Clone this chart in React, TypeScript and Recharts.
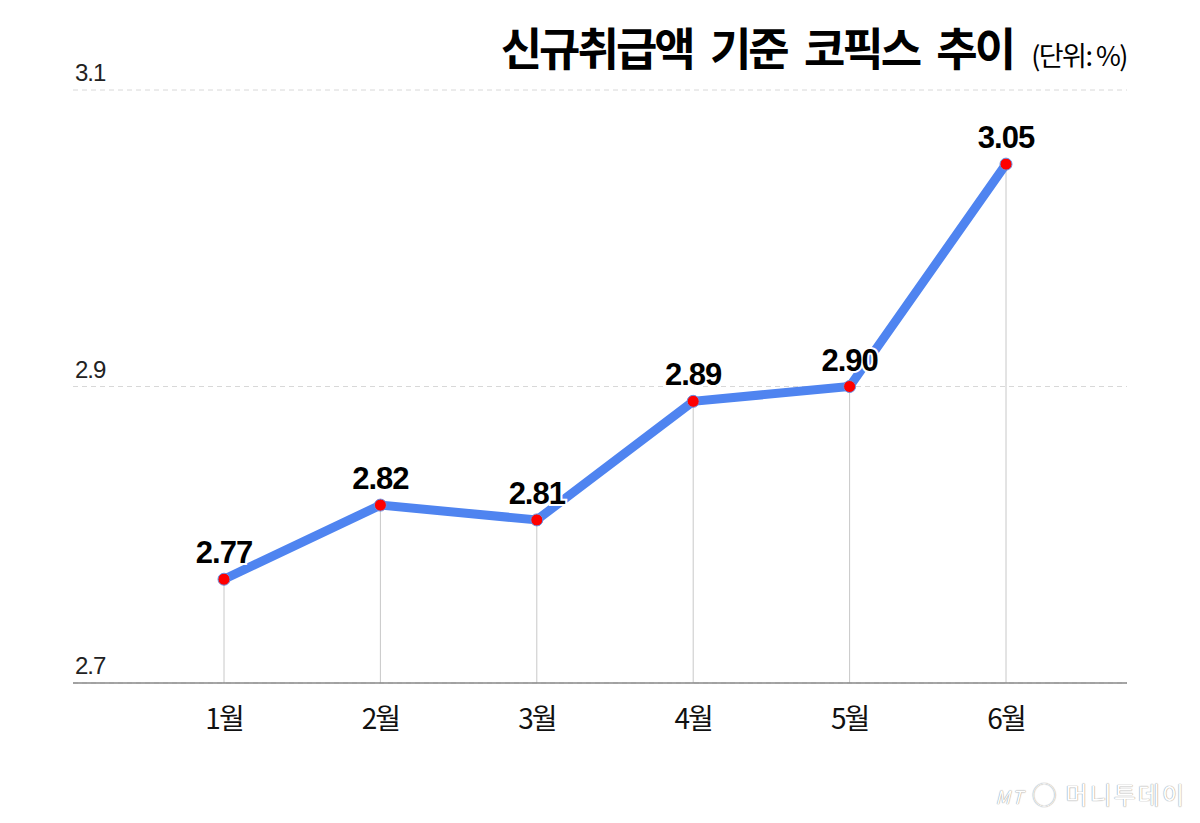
import { LineChart, Line, XAxis, YAxis, CartesianGrid, ReferenceLine, LabelList } from 'recharts';

const MONTHS = ['1월', '2월', '3월', '4월', '5월', '6월'];
const COFIX = [2.77, 2.82, 2.81, 2.89, 2.9, 3.05];
const LABELS = ['2.77', '2.82', '2.81', '2.89', '2.90', '3.05'];
const Y_TICKS = [2.7, 2.9, 3.1];

const TITLE = '신규취급액 기준 코픽스 추이';
const UNIT = '(단위: %)';

const KR_FONT = '"Noto Sans CJK KR", "Noto Sans", sans-serif';
const NUM_FONT = '"Liberation Sans", Arial, sans-serif';

const data = MONTHS.map((m, i) => ({ month: m, value: COFIX[i], label: LABELS[i] }));

function YTick(props: any) {
  const { x, y, payload } = props;
  return (
    <text x={x} y={y - 9} fontSize={24} fontFamily={NUM_FONT} fill="#222" textAnchor="start" letterSpacing={-1}>
      {payload.value.toFixed(1)}
    </text>
  );
}

function XTick(props: any) {
  const { x, y, payload } = props;
  return (
    <text x={x} y={y + 38} fontSize={28} fontFamily={KR_FONT} fill="#111" textAnchor="middle" letterSpacing={-2}>
      {payload.value}
    </text>
  );
}

function ValueLabel(props: any) {
  const { x, y, value } = props;
  return (
    <text
      x={x}
      y={y - 16}
      fontSize={31}
      fontWeight="bold"
      fontFamily={NUM_FONT}
      fill="#000"
      stroke="#fff"
      strokeWidth={4}
      paintOrder="stroke"
      textAnchor="middle"
      letterSpacing={-1}
    >
      {value}
    </text>
  );
}

export default function App() {
  return (
    <div style={{ position: 'absolute', left: 0, top: 0, width: 1200, height: 823, background: '#fff' }}>
      <div
        style={{
          position: 'absolute',
          right: 73,
          top: 14,
          display: 'flex',
          alignItems: 'baseline',
          fontFamily: KR_FONT,
          color: '#000',
          whiteSpace: 'nowrap',
        }}
      >
        <span style={{ fontSize: 45, fontWeight: 'bold', letterSpacing: -3, wordSpacing: 10 }}>{TITLE}</span>
        <span style={{ fontSize: 27, marginLeft: 18, letterSpacing: -1.5 }}>{UNIT}</span>
      </div>
      <LineChart width={1200} height={823} data={data} margin={{ top: 90, right: 73, bottom: 110, left: 73 }}>
        <CartesianGrid vertical={false} stroke="#d8d8d8" strokeDasharray="5 4" />
        <XAxis
          dataKey="month"
          height={30}
          padding={{ left: 151, right: 121 }}
          axisLine={{ stroke: '#888', strokeWidth: 1.5 }}
          tickLine={false}
          tick={<XTick />}
        />
        <YAxis
          domain={[2.7, 3.1]}
          ticks={Y_TICKS}
          mirror
          tickSize={0}
          tickMargin={2}
          axisLine={false}
          tickLine={false}
          tick={<YTick />}
        />
        {data.map((d) => (
          <ReferenceLine
            key={d.month}
            segment={[
              { x: d.month, y: 2.7 },
              { x: d.month, y: d.value },
            ]}
            stroke="#c8c8c8"
            strokeWidth={1}
          />
        ))}
        <Line
          type="linear"
          dataKey="value"
          stroke="#4f84f0"
          strokeWidth={9}
          dot={{ r: 6, fill: '#f00', stroke: '#6a8fe0', strokeWidth: 1 }}
          activeDot={false}
          isAnimationActive={false}
        >
          <LabelList dataKey="label" content={<ValueLabel />} />
        </Line>
      </LineChart>
      <div
        style={{
          position: 'absolute',
          right: 14,
          bottom: 12,
          fontFamily: KR_FONT,
          fontSize: 24,
          color: '#fff',
          textShadow: '0 0 1px #999, 0 0 1px #999',
          letterSpacing: 2,
        }}
      >
        <i style={{ fontSize: 18 }}>MT</i> ◯ 머니투데이
      </div>
    </div>
  );
}
